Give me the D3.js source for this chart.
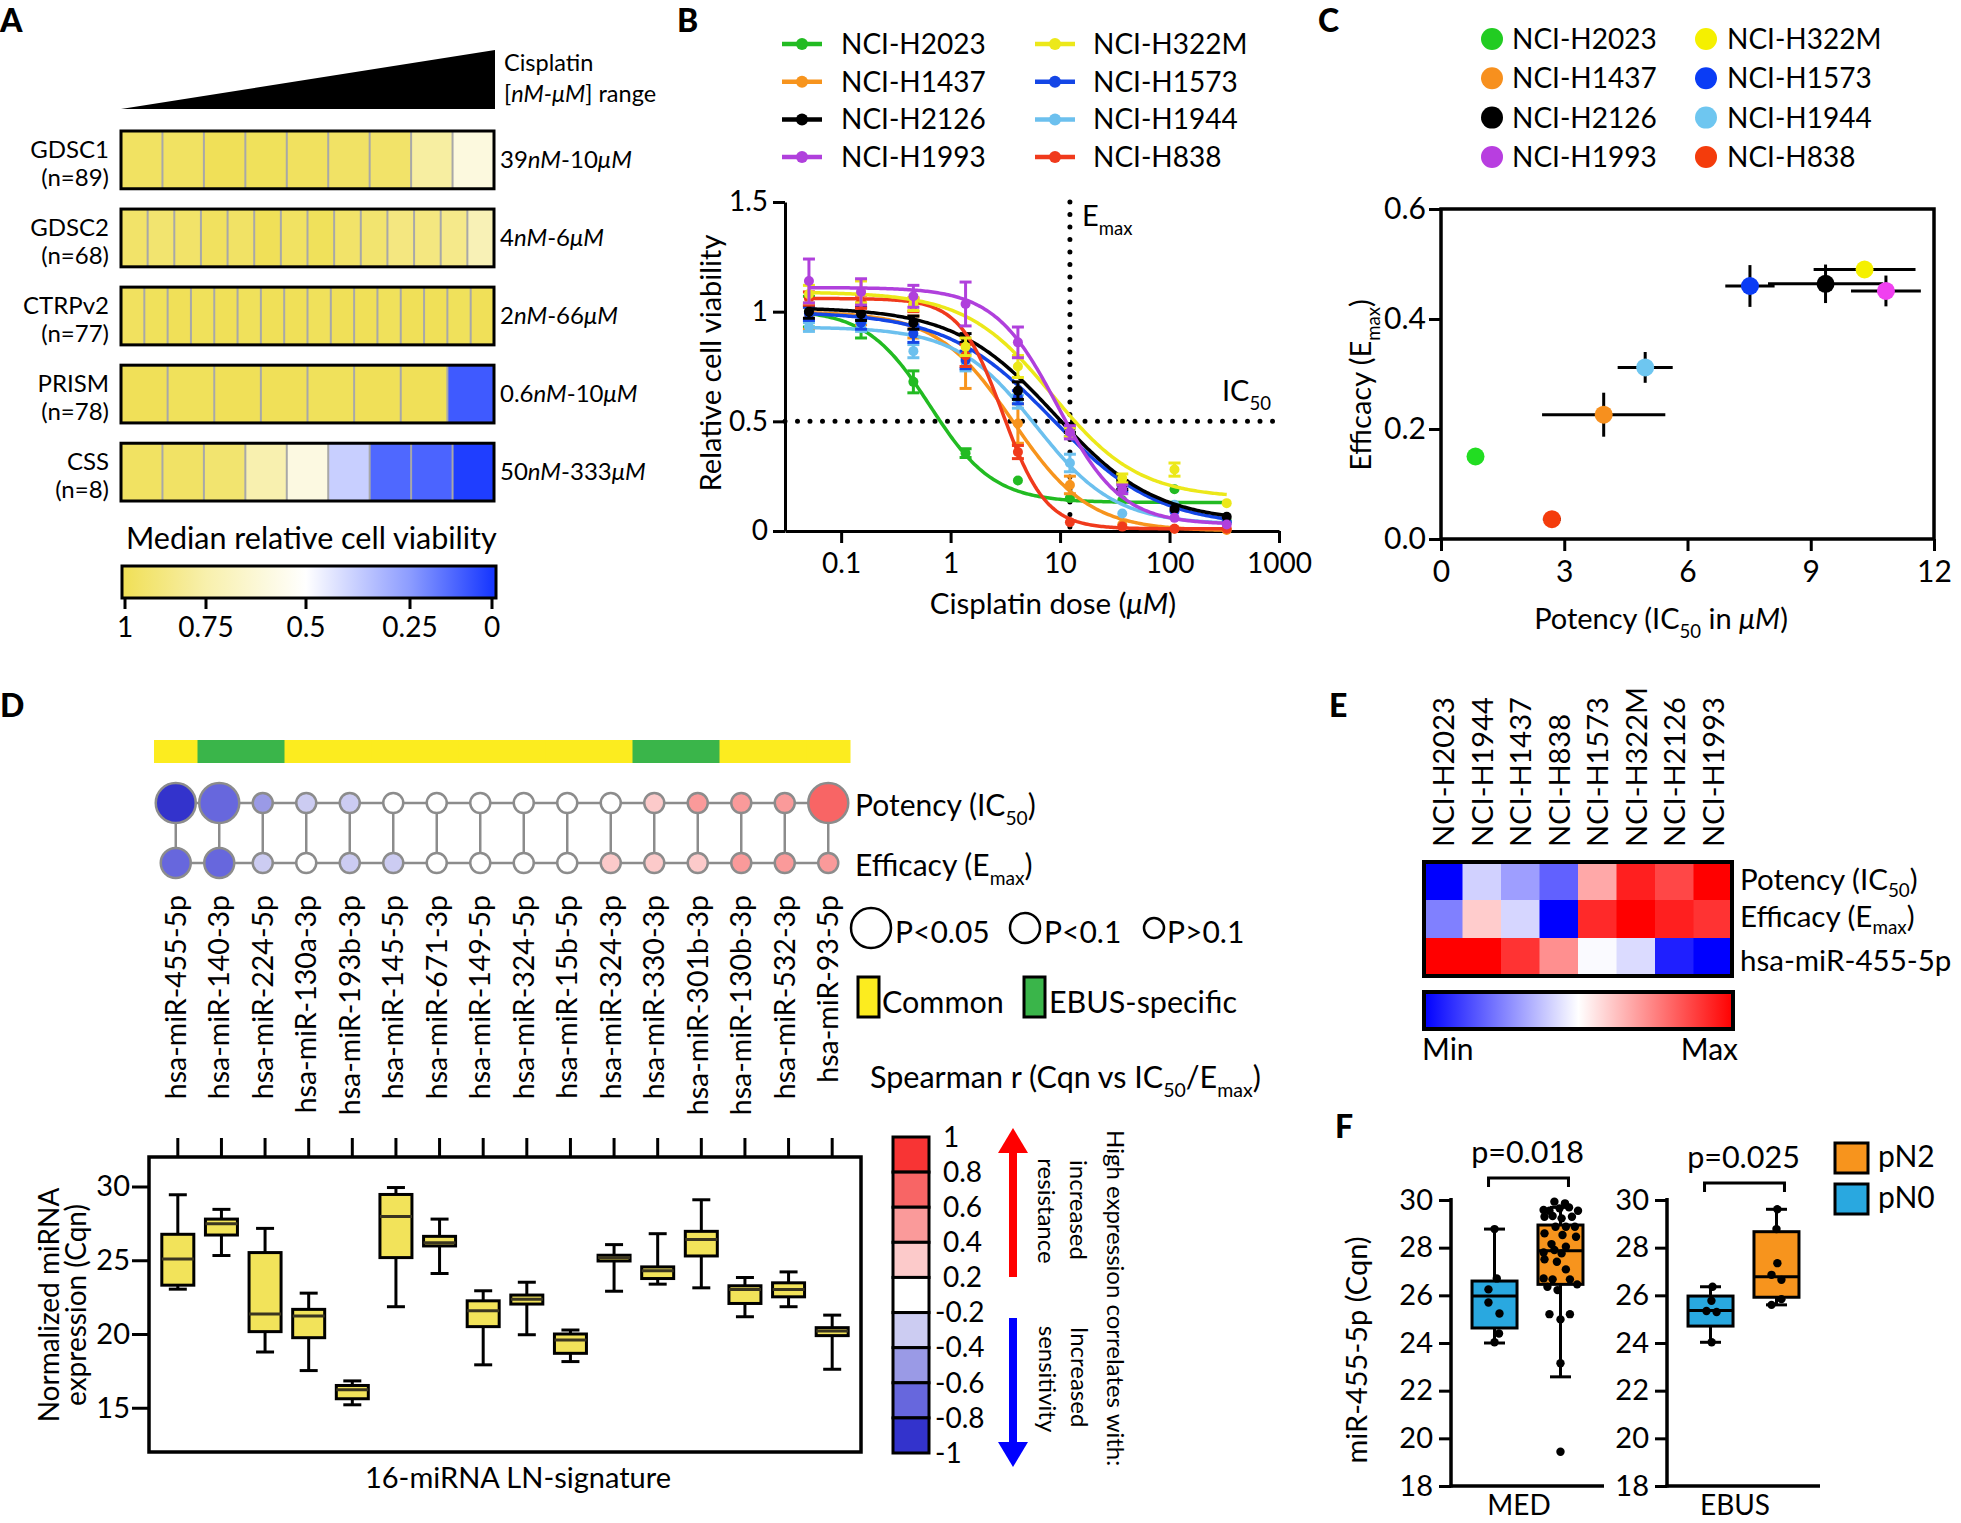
<!DOCTYPE html>
<html><head><meta charset="utf-8">
<script src="https://cdn.jsdelivr.net/npm/d3@7"></script>
<style>body{margin:0;background:#fff}svg{display:block}text{font-family:Lato,sans-serif;fill:#000}</style>
</head><body><svg id="fig" width="1961" height="1523"></svg>
<script>
// ================= DATA =================
// Panel A
const aDatasets=["GDSC1","GDSC2","CTRPv2","PRISM","CSS"];
const aSizes=["(n=89)","(n=68)","(n=77)","(n=78)","(n=8)"];
const aRanges=[["39","nM","10","μM"],["4","nM","6","μM"],["2","nM","66","μM"],["0.6","nM","10","μM"],["50","nM","333","μM"]];
const aGDSC1=[0.97,0.97,1.0,0.99,0.98,0.96,0.95,0.78,0.6];
const aGDSC2=[0.95,0.93,0.95,0.98,0.96,1.0,0.97,0.99,0.95,0.93,0.88,0.88,0.85,0.72];
const aCTRPv2=[0.98,0.99,1,0.99,1,0.99,1,1,0.99,1,1,0.99,1,1,0.99,1];
const aPRISM=[1,0.99,1,1,0.99,1,1,0.085];
const aCSS=[0.97,0.96,0.93,0.74,0.59,0.38,0.12,0.11,0.015];
const aLegendTicks=[1,0.75,0.5,0.25,0];

// Panel B
const bLines=["NCI-H2023","NCI-H1437","NCI-H2126","NCI-H1993","NCI-H322M","NCI-H1573","NCI-H1944","NCI-H838"];
const bColors=["#22bb22","#f7941d","#000000","#b040dc","#ece81a","#1446e6","#6cc0ee","#f03a1c"];
const bDoses=[0.0508,0.152,0.457,1.37,4.12,12.3,37,111,333];
const bViability=[
 [1.0,0.95,0.68,0.355,0.23,0.15,0.14,0.19,0.047],
 [0.97,0.99,0.93,0.75,0.49,0.21,0.03,0.01,0.005],
 [1.0,0.99,0.95,0.88,0.64,0.47,0.21,0.1,0.065],
 [1.14,1.09,1.07,1.035,0.86,0.45,0.19,0.06,0.03],
 [1.08,1.09,1.035,0.84,0.75,0.45,0.24,0.28,0.127],
 [0.99,0.95,0.9,0.78,0.61,0.45,0.2,0.09,0.04],
 [0.93,0.93,0.82,0.77,0.59,0.31,0.08,0.12,0.04],
 [1.06,1.045,1.03,0.8,0.36,0.04,0.02,0.01,0.01]];
const bSEM=[
 [0.07,0.07,0.05,0.02,0.01,0.01,0.01,0.01,0.01],
 [0.05,0.05,0.05,0.1,0.09,0.04,0.01,0.01,0.01],
 [0.03,0.03,0.03,0.02,0.04,0.02,0.02,0.01,0.01],
 [0.1,0.06,0.05,0.1,0.07,0.03,0.02,0.01,0.01],
 [0.04,0.05,0.03,0.04,0.05,0.02,0.02,0.03,0.01],
 [0.03,0.03,0.04,0.04,0.03,0.02,0.02,0.01,0.01],
 [0.02,0.02,0.03,0.04,0.03,0.04,0.01,0.01,0.01],
 [0.03,0.03,0.03,0.05,0.03,0.01,0.01,0.01,0.01]];
// fitted 4-parameter logistic curves
const bFitTop=[1.01,1.0,1.02,1.11,1.09,1.0,0.93,1.06];
const bFitBottom=[0.13,0.0,0.04,0.03,0.15,0.02,0.03,0.01];
const bFitEC50=[0.65,3.7,9,9.5,8.5,8.5,6,3.0];
const bFitHill=[1.5,1.25,0.95,1.5,1.1,0.9,1.2,2.2];

// Panel C
const cIC50=[0.84,3.96,9.36,10.83,10.31,7.52,4.97,2.70];
const cIC50Err=[0,1.5,1.4,0.85,1.24,0.6,0.67,0.22];
const cEmax=[0.15,0.226,0.464,0.451,0.49,0.46,0.312,0.036];
const cEmaxErr=[0,0.04,0.035,0.028,0.008,0.038,0.028,0.005];
const cColors=["#22dd22","#f7901e","#000000","#f040f0","#f5f000","#0a3cf5","#6ec6f0","#f43c0c"];
const cLegendColors=["#22cc22","#f7901e","#000000","#b83ee0","#f5f000","#0a3cf5","#6ec6f0","#f43c0c"];

// Panel D
const dMirnas=["hsa-miR-455-5p","hsa-miR-140-3p","hsa-miR-224-5p","hsa-miR-130a-3p","hsa-miR-193b-3p","hsa-miR-145-5p","hsa-miR-671-3p","hsa-miR-149-5p","hsa-miR-324-5p","hsa-miR-15b-5p","hsa-miR-324-3p","hsa-miR-330-3p","hsa-miR-301b-3p","hsa-miR-130b-3p","hsa-miR-532-3p","hsa-miR-93-5p"];
const dGroups=["Common","EBUS-specific"];
const dGroup=["Common","EBUS-specific","EBUS-specific","Common","Common","Common","Common","Common","Common","Common","Common","EBUS-specific","EBUS-specific","Common","Common","Common"];
const dSigLevels=["P<0.05","P<0.1","P>0.1"];
const dPotencyR=[-0.9,-0.7,-0.5,-0.3,-0.3,0,0,0,0,0,0,0.3,0.5,0.5,0.5,0.7];
const dPotencySig=["P<0.05","P<0.05","P>0.1","P>0.1","P>0.1","P>0.1","P>0.1","P>0.1","P>0.1","P>0.1","P>0.1","P>0.1","P>0.1","P>0.1","P>0.1","P<0.05"];
const dEfficacyR=[-0.7,-0.7,-0.3,0,-0.3,-0.3,0,0,0,0,0.3,0.3,0.3,0.5,0.5,0.5];
const dEfficacySig=["P<0.1","P<0.1","P>0.1","P>0.1","P>0.1","P>0.1","P>0.1","P>0.1","P>0.1","P>0.1","P>0.1","P>0.1","P>0.1","P>0.1","P>0.1","P>0.1"];
const dWhiskLo=[23.04,25.32,18.78,17.52,15.2,21.85,24.1,17.91,19.95,18.13,22.9,23.38,23.13,21.17,21.85,17.61];
const dQ1=[23.31,26.71,20.16,19.75,15.61,25.18,25.97,20.5,22.03,18.69,24.95,23.76,25.29,22.07,22.52,19.89];
const dMedian=[25.09,27.48,21.35,21.22,16.22,27.97,26.19,21.58,22.36,19.6,25.18,24.28,26.4,23.02,23.02,20.2];
const dQ3=[26.76,27.79,25.52,21.67,16.51,29.46,26.62,22.25,22.64,20.0,25.34,24.55,26.96,23.27,23.47,20.43];
const dWhiskHi=[29.44,28.45,27.16,22.77,16.82,29.93,27.79,22.93,23.51,20.27,26.06,26.8,29.1,23.83,24.21,21.28];
const dYTicks=[15,20,25,30];
const dSpearmanBreaks=[1,0.8,0.6,0.4,0.2,-0.2,-0.4,-0.6,-0.8,-1];

// Panel E
const eLines=["NCI-H2023","NCI-H1944","NCI-H1437","NCI-H838","NCI-H1573","NCI-H322M","NCI-H2126","NCI-H1993"];
const ePotency=[0,0.41,0.31,0.19,0.67,0.94,0.86,1.0];
const eEfficacy=[0.25,0.6,0.42,0,0.92,1.0,0.94,0.9];
const eMir455=[1,1,0.9,0.72,0.49,0.43,0.06,0];

// Panel F
const fCohorts=["MED","EBUS"];
const fClasses=["pN0","pN2"];
const fColors=["#29a8e0","#f7941d"];
const fMedN0Stats=[24.0,24.63,25.97,26.6,28.78];   // min,q1,median,q3,max
const fMedN2Stats=[22.58,26.46,27.87,28.95,29.69];
const fEbusN0Stats=[24.03,24.71,25.36,25.97,26.36];
const fEbusN2Stats=[25.6,25.92,26.78,28.67,29.61];
const fMedN0=[28.78,26.71,26.25,25.7,25.24,24.4,24.03];
const fMedN0Jit=[0,0.1,-0.27,-0.27,0.22,0.2,0];
const fMedN2=[29.93,29.86,29.58,29.55,29.65,29.69,29.55,29.3,29.33,29.23,29.3,28.88,28.88,28.6,28.88,28.53,28.46,28.15,28.04,27.8,27.9,27.76,27.51,27.41,27.09,26.71,26.67,26.67,26.36,26.46,26.22,25.21,25.21,24.99,23.15,19.44];
const fMedN2Jit=[-0.27,0.2,-0.75,-0.49,-0.04,0.38,0.78,-0.71,-0.35,0.05,0.51,-0.22,0.24,-0.71,0.64,0.09,0.69,-0.4,0.24,-0.75,-0.27,0.05,-0.71,-0.16,0.24,-0.75,-0.35,0.42,-0.58,0.74,-0.13,-0.49,0.42,0,0,0];
const fEbusN0=[26.36,25.77,25.34,25.3,24.03];
const fEbusN0Jit=[0.09,0.04,-0.18,0.27,0.05];
const fEbusN2=[29.61,28.78,27.35,26.86,26.65,25.84,25.6];
const fEbusN2Jit=[0.04,0,0.04,-0.22,0.22,0.22,-0.22];
const fPvalues=["p=0.018","p=0.025"];
const fYTicks=[18,20,22,24,26,28,30];

// ================= DRAWING =================
const FA="'Liberation Sans',Arial,sans-serif";
const svg=d3.select("#fig");
svg.append("rect").attr("width",1961).attr("height",1523).attr("fill","#fff");
const defs=svg.append("defs");

function rich(parent,parts,size,attrs,subShift){
  const t=parent.append("text").attr("font-size",size);
  Object.entries(attrs||{}).forEach(([k,v])=>t.attr(k,v));
  let down=0;
  const sf=subShift||0.3;
  parts.forEach(p=>{
    if(typeof p==="string") p={t:p};
    const ts=t.append("tspan").text(p.t);
    if(p.i) ts.attr("font-style","italic");
    if(p.sub){const d=size*sf; ts.attr("font-size",size*0.64).attr("dy",d-down); down=d;}
    else if(down){ts.attr("dy",-down); down=0;}
  });
  return t;
}
function styleAxis(g,fs,ff){
  g.attr("font-size",fs).attr("font-family",ff||"Lato,sans-serif");
  g.selectAll("path,line").attr("stroke","#000").attr("stroke-width",3);
  g.selectAll("text").attr("fill","#000");
}
function letter(t,x,y){svg.append("text").attr("x",x).attr("y",y).attr("font-size",32).attr("font-weight",900).text(t);}
letter("A",0,32);letter("B",677,32);letter("C",1318,32);letter("D",0,717);letter("E",1329,717);letter("F",1335,1138);

// ---------- Panel A ----------
(function(){
  const g=svg.append("g");
  const vals=[aGDSC1,aGDSC2,aCTRPv2,aPRISM,aCSS];
  const row=d3.scaleBand().domain(aDatasets).range([131,501]).paddingInner(0.26);
  const color=d3.scaleLinear().domain([0,0.5,1]).range(["#1838ff","#ffffff","#f0e058"]);
  g.append("path").attr("d","M121,109L495,50L495,109Z").attr("fill","#000");
  g.append("text").attr("x",504).attr("y",71).attr("font-size",23.5).text("Cisplatin");
  rich(g,["[",{t:"nM-μM",i:true},"] range"],23.5,{x:504,y:102});
  aDatasets.forEach((ds,i)=>{
    const v=vals[i], y0=row(ds), h=row.bandwidth();
    const cx=d3.scaleLinear().domain([0,v.length]).range([121,494]);
    g.append("g").selectAll("rect").data(v).join("rect")
      .attr("x",(d,j)=>cx(j)).attr("y",y0).attr("width",cx(1)-cx(0)+0.5).attr("height",h).attr("fill",d=>color(d));
    g.append("g").selectAll("line").data(d3.range(1,v.length)).join("line")
      .attr("x1",j=>cx(j)).attr("x2",j=>cx(j)).attr("y1",y0).attr("y2",y0+h).attr("stroke","#a8a8a8").attr("stroke-width",2);
    g.append("rect").attr("x",121).attr("y",y0).attr("width",373).attr("height",h).attr("fill","none").attr("stroke","#000").attr("stroke-width",3);
    g.append("text").attr("x",109).attr("y",y0+h/2-2).attr("text-anchor","end").attr("font-size",24).text(ds);
    g.append("text").attr("x",109).attr("y",y0+h/2+26).attr("text-anchor","end").attr("font-size",24).text(aSizes[i]);
    const r=aRanges[i];
    rich(g,[r[0],{t:r[1],i:true},"-"+r[2],{t:r[3],i:true}],24,{x:500,y:y0+h/2+8});
  });
  g.append("text").attr("x",126).attr("y",549).attr("font-size",30.5).text("Median relative cell viability");
  const lx=d3.scaleLinear().domain(aLegendTicks).range([125,206,306,410,492]);
  const grad=defs.append("linearGradient").attr("id","gradA").attr("gradientUnits","userSpaceOnUse").attr("x1",125).attr("x2",492).attr("y1",0).attr("y2",0);
  d3.range(20,-1,-1).map(k=>k/20).forEach(v=>grad.append("stop").attr("offset",(lx(v)-125)/(492-125)).attr("stop-color",color(v)));
  g.append("rect").attr("x",122).attr("y",566).attr("width",374).attr("height",32).attr("fill","url(#gradA)").attr("stroke","#000").attr("stroke-width",3);
  g.append("g").selectAll("line").data(aLegendTicks).join("line").attr("x1",d=>lx(d)).attr("x2",d=>lx(d)).attr("y1",598).attr("y2",609).attr("stroke","#000").attr("stroke-width",3);
  g.append("g").selectAll("text").data(aLegendTicks).join("text").attr("x",d=>lx(d)).attr("y",637).attr("text-anchor","middle").attr("font-size",28).text(d=>String(d));
})();

// ---------- Panel B ----------
(function(){
  const g=svg.append("g");
  const x=d3.scaleLog().domain([0.0307,1000]).range([785,1279]);
  const y=d3.scaleLinear().domain([0,1.5]).range([531,202]);
  const ax=g.append("g").attr("transform","translate(0,531)").call(d3.axisBottom(x).tickValues([0.1,1,10,100,1000]).tickFormat(d=>String(d)).tickSize(12).tickSizeOuter(0).tickPadding(10));
  styleAxis(ax,28);
  const ay=g.append("g").attr("transform","translate(785,0)").call(d3.axisLeft(y).tickValues([0,0.5,1,1.5]).tickFormat(d=>String(d)).tickSize(12).tickSizeOuter(0).tickPadding(5));
  styleAxis(ay,28);
  g.append("line").attr("x1",x(0.0307)).attr("x2",x(950)).attr("y1",y(0.5)).attr("y2",y(0.5)).attr("stroke","#000").attr("stroke-width",5).attr("stroke-dasharray","0,12.5").attr("stroke-linecap","round");
  g.append("line").attr("x1",x(bDoses[5])).attr("x2",x(bDoses[5])).attr("y1",y(1.5)).attr("y2",y(0)).attr("stroke","#000").attr("stroke-width",5).attr("stroke-dasharray","0,12.5").attr("stroke-linecap","round");
  rich(g,["E",{t:"max",sub:true}],29,{x:1082,y:226});
  rich(g,["IC",{t:"50",sub:true}],29,{x:1222,y:401});
  const curveDoses=d3.range(0,241).map(k=>Math.pow(10,Math.log10(bDoses[0])+k*(Math.log10(bDoses[8])-Math.log10(bDoses[0]))/240));
  const order=[0,1,6,5,2,7,4,3];
  order.forEach(i=>{
    const col=bColors[i];
    const f=d=>bFitBottom[i]+(bFitTop[i]-bFitBottom[i])/(1+Math.pow(d/bFitEC50[i],bFitHill[i]));
    g.append("path").datum(curveDoses).attr("d",d3.line().x(d=>x(d)).y(d=>y(f(d)))).attr("fill","none").attr("stroke",col).attr("stroke-width",3.5);
    const pts=bDoses.map((d,k)=>({d,v:bViability[i][k],e:bSEM[i][k]}));
    const eg=g.append("g").attr("stroke",col).attr("stroke-width",3);
    pts.forEach(p=>{
      if(p.e<0.015) return;
      eg.append("line").attr("x1",x(p.d)).attr("x2",x(p.d)).attr("y1",y(p.v-p.e)).attr("y2",y(p.v+p.e));
      eg.append("line").attr("x1",x(p.d)-6).attr("x2",x(p.d)+6).attr("y1",y(p.v+p.e)).attr("y2",y(p.v+p.e));
      eg.append("line").attr("x1",x(p.d)-6).attr("x2",x(p.d)+6).attr("y1",y(p.v-p.e)).attr("y2",y(p.v-p.e));
    });
    g.append("g").selectAll("circle").data(pts).join("circle").attr("cx",p=>x(p.d)).attr("cy",p=>y(p.v)).attr("r",5).attr("fill",col);
  });
  bLines.forEach((n,i)=>{
    const lx=i<4?782:1035, tx=i<4?841:1093, cy=44+(i%4)*37.7;
    g.append("line").attr("x1",lx).attr("x2",lx+40).attr("y1",cy).attr("y2",cy).attr("stroke",bColors[i]).attr("stroke-width",4.5);
    g.append("circle").attr("cx",lx+20).attr("cy",cy).attr("r",6).attr("fill",bColors[i]);
    g.append("text").attr("x",tx).attr("y",cy+10).attr("font-size",28).text(n);
  });
  g.append("text").attr("transform","translate(721,363) rotate(-90)").attr("text-anchor","middle").attr("font-size",29).text("Relative cell viability");
  rich(g,["Cisplatin dose (",{t:"μM",i:true},")"],29.5,{x:1053,y:614,"text-anchor":"middle"});
})();

// ---------- Panel C ----------
(function(){
  const g=svg.append("g");
  const x=d3.scaleLinear().domain([0,12]).range([1441,1934]);
  const y=d3.scaleLinear().domain([0,0.6]).range([539,209]);
  g.append("rect").attr("x",1441).attr("y",209).attr("width",493).attr("height",330).attr("fill","none").attr("stroke","#000").attr("stroke-width",3.5);
  const ax=g.append("g").attr("transform","translate(0,539)").call(d3.axisBottom(x).tickValues([0,3,6,9,12]).tickSize(12).tickSizeOuter(0).tickPadding(10));
  styleAxis(ax,30); ax.select(".domain").remove();
  const ay=g.append("g").attr("transform","translate(1441,0)").call(d3.axisLeft(y).tickValues([0,0.2,0.4,0.6]).tickFormat(d3.format(".1f")).tickSize(12).tickSizeOuter(0).tickPadding(3));
  styleAxis(ay,30); ay.select(".domain").remove();
  const eg=g.append("g").attr("stroke","#000").attr("stroke-width",3);
  cIC50.forEach((v,i)=>{
    if(cIC50Err[i]>0) eg.append("line").attr("x1",x(v-cIC50Err[i])).attr("x2",x(v+cIC50Err[i])).attr("y1",y(cEmax[i])).attr("y2",y(cEmax[i]));
    if(cEmaxErr[i]>0) eg.append("line").attr("x1",x(v)).attr("x2",x(v)).attr("y1",y(cEmax[i]-cEmaxErr[i])).attr("y2",y(cEmax[i]+cEmaxErr[i]));
  });
  g.append("g").selectAll("circle").data(cIC50).join("circle").attr("cx",d=>x(d)).attr("cy",(d,i)=>y(cEmax[i])).attr("r",9).attr("fill",(d,i)=>cColors[i]);
  bLines.forEach((n,i)=>{
    const dx=i<4?1492:1706, tx=i<4?1512:1727, cy=39+(i%4)*39.3;
    g.append("circle").attr("cx",dx).attr("cy",cy).attr("r",11).attr("fill",cLegendColors[i]);
    g.append("text").attr("x",tx).attr("y",cy+10).attr("font-size",28).text(n);
  });
  rich(g,["Efficacy (E",{t:"max",sub:true},")"],29,{transform:"translate(1371,385) rotate(-90)","text-anchor":"middle"});
  rich(g,["Potency (IC",{t:"50",sub:true}," in ",{t:"μM",i:true},")"],29,{x:1661,y:629,"text-anchor":"middle"});
})();

// ---------- Panel D ----------
(function(){
  const g=svg.append("g");
  const x=d3.scaleBand().domain(dMirnas).range([154,850]);
  const cxm=m=>x(m)+x.bandwidth()/2;
  const grpColor=d3.scaleOrdinal().domain(dGroups).range(["#fcec1f","#3ab54a"]);
  const rColor=d3.scaleThreshold().domain([-0.8,-0.6,-0.4,-0.2,0.2,0.4,0.6,0.8]).range(["#3333cc","#6767dd","#9a9ae6","#ccccf2","#ffffff","#fccaca","#fa9a9a","#f86565","#f83434"]);
  const rad=d3.scaleOrdinal().domain(dSigLevels).range([20,15,10]);
  g.append("g").selectAll("rect").data(dMirnas).join("rect").attr("x",d=>x(d)).attr("y",740).attr("width",x.bandwidth()+0.5).attr("height",23).attr("fill",(d,i)=>grpColor(dGroup[i]));
  const yP=803,yE=863;
  const lg=g.append("g").attr("stroke","#8c8c8c").attr("stroke-width",2.5);
  lg.append("line").attr("x1",cxm(dMirnas[0])).attr("x2",cxm(dMirnas[15])).attr("y1",yP).attr("y2",yP);
  lg.append("line").attr("x1",cxm(dMirnas[0])).attr("x2",cxm(dMirnas[15])).attr("y1",yE).attr("y2",yE);
  lg.selectAll("line.v").data(dMirnas).join("line").attr("class","v").attr("x1",cxm).attr("x2",cxm).attr("y1",yP).attr("y2",yE);
  g.append("g").selectAll("circle").data(dMirnas).join("circle").attr("cx",cxm).attr("cy",yP).attr("r",(d,i)=>rad(dPotencySig[i])).attr("fill",(d,i)=>rColor(dPotencyR[i])).attr("stroke","#8c8c8c").attr("stroke-width",2.5);
  g.append("g").selectAll("circle").data(dMirnas).join("circle").attr("cx",cxm).attr("cy",yE).attr("r",(d,i)=>rad(dEfficacySig[i])).attr("fill",(d,i)=>rColor(dEfficacyR[i])).attr("stroke","#8c8c8c").attr("stroke-width",2.5);
  rich(g,["Potency (IC",{t:"50",sub:true},")"],30,{x:855,y:816});
  rich(g,["Efficacy (E",{t:"max",sub:true},")"],30,{x:855,y:876});
  g.append("g").selectAll("text").data(dMirnas).join("text").attr("transform",d=>`translate(${cxm(d)+10},895) rotate(-90)`).attr("text-anchor","end").attr("font-family",FA).attr("font-size",28.5).text(d=>d);
  const legX=[871,1025,1154], legT=[895,1044,1167];
  dSigLevels.forEach((s,i)=>{
    g.append("circle").attr("cx",legX[i]).attr("cy",928).attr("r",rad(s)).attr("fill","#fff").attr("stroke","#000").attr("stroke-width",2.5);
    g.append("text").attr("x",legT[i]).attr("y",943).attr("font-size",30).text(s);
  });
  const boxX=[858,1024], boxT=[882,1049];
  dGroups.forEach((s,i)=>{
    g.append("rect").attr("x",boxX[i]).attr("y",977).attr("width",21).attr("height",40).attr("fill",grpColor(s)).attr("stroke","#000").attr("stroke-width",3);
    g.append("text").attr("x",boxT[i]).attr("y",1013).attr("font-size",30.5).text(s);
  });
  rich(g,["Spearman r (Cqn vs IC",{t:"50",sub:true},"/E",{t:"max",sub:true},")"],30.5,{x:870,y:1088});
  const xb=d3.scaleBand().domain(dMirnas).range([156,854]);
  const cxb=m=>xb(m)+xb.bandwidth()/2;
  const y=d3.scaleLinear().domain([12,32]).range([1452,1157]);
  g.append("g").selectAll("line").data(dMirnas).join("line").attr("x1",cxb).attr("x2",cxb).attr("y1",1138).attr("y2",1157).attr("stroke","#000").attr("stroke-width",3);
  const bw=32, cw=18;
  const bg=g.append("g").attr("stroke","#000").attr("stroke-width",3);
  dMirnas.forEach((m,i)=>{
    const c=cxb(m);
    bg.append("line").attr("x1",c).attr("x2",c).attr("y1",y(dWhiskLo[i])).attr("y2",y(dWhiskHi[i]));
    bg.append("line").attr("x1",c-cw/2).attr("x2",c+cw/2).attr("y1",y(dWhiskLo[i])).attr("y2",y(dWhiskLo[i]));
    bg.append("line").attr("x1",c-cw/2).attr("x2",c+cw/2).attr("y1",y(dWhiskHi[i])).attr("y2",y(dWhiskHi[i]));
    bg.append("rect").attr("x",c-bw/2).attr("y",y(dQ3[i])).attr("width",bw).attr("height",y(dQ1[i])-y(dQ3[i])).attr("fill","#f2e35a");
    bg.append("line").attr("x1",c-bw/2).attr("x2",c+bw/2).attr("y1",y(dMedian[i])).attr("y2",y(dMedian[i])).attr("stroke","#3a3520");
  });
  g.append("rect").attr("x",149).attr("y",1157).attr("width",712).attr("height",295).attr("fill","none").attr("stroke","#000").attr("stroke-width",3.5);
  const ay=g.append("g").attr("transform","translate(149,0)").call(d3.axisLeft(y).tickValues(dYTicks).tickSize(17).tickSizeOuter(0).tickPadding(2));
  styleAxis(ay,29); ay.select(".domain").remove();
  g.append("text").attr("transform","translate(59,1305) rotate(-90)").attr("text-anchor","middle").attr("font-family",FA).attr("font-size",28).text("Normalized miRNA");
  g.append("text").attr("transform","translate(86,1305) rotate(-90)").attr("text-anchor","middle").attr("font-family",FA).attr("font-size",28).text("expression (Cqn)");
  g.append("text").attr("x",518).attr("y",1488).attr("text-anchor","middle").attr("font-size",29).text("16-miRNA LN-signature");
  const ky=d3.scaleLinear().domain([0,9]).range([1137,1453]);
  const keyCols=rColor.range().slice().reverse();
  g.append("g").selectAll("rect").data(keyCols).join("rect").attr("x",893).attr("y",(d,k)=>ky(k)).attr("width",36).attr("height",ky(1)-ky(0)).attr("fill",d=>d).attr("stroke","#000").attr("stroke-width",3);
  g.append("g").selectAll("text").data(dSpearmanBreaks).join("text").attr("x",d=>d<0?935:943).attr("y",(d,k)=>ky(k)).attr("dy","0.35em").attr("font-size",28).text(d=>String(d));
  g.append("line").attr("x1",1013).attr("x2",1013).attr("y1",1277).attr("y2",1150).attr("stroke","#ff0000").attr("stroke-width",8);
  g.append("path").attr("d","M1013,1128L998,1153L1028,1153Z").attr("fill","#ff0000");
  g.append("line").attr("x1",1013).attr("x2",1013).attr("y1",1318).attr("y2",1445).attr("stroke","#0000ff").attr("stroke-width",8);
  g.append("path").attr("d","M1013,1467L998,1442L1028,1442Z").attr("fill","#0000ff");
  const rt=(txt,xx,yy,anchor)=>g.append("text").attr("transform",`translate(${xx},${yy}) rotate(90)`).attr("text-anchor",anchor).attr("font-size",24).text(txt);
  rt("High expression correlates with:",1107,1130,"start");
  rt("increased",1070,1210,"middle");
  rt("resistance",1038,1211,"middle");
  rt("Increased",1071,1377,"middle");
  rt("sensitivity",1039,1379,"middle");
})();

// ---------- Panel E ----------
(function(){
  const g=svg.append("g");
  const x=d3.scaleBand().domain(eLines).range([1424,1732]);
  const rows=["Potency","Efficacy","hsa-miR-455-5p"];
  const y=d3.scaleBand().domain(rows).range([862,976]);
  const col=d3.scaleLinear().domain([0,0.5,1]).range(["#0000ff","#ffffff","#ff0000"]);
  [ePotency,eEfficacy,eMir455].forEach((vals,r)=>{
    g.append("g").selectAll("rect").data(eLines).join("rect").attr("x",d=>x(d)).attr("y",y(rows[r])).attr("width",x.bandwidth()+0.5).attr("height",y.bandwidth()+0.5).attr("fill",(d,i)=>col(vals[i]));
  });
  g.append("rect").attr("x",1424).attr("y",862).attr("width",308).attr("height",114).attr("fill","none").attr("stroke","#000").attr("stroke-width",4);
  g.append("g").selectAll("text").data(eLines).join("text").attr("transform",d=>`translate(${x(d)+x.bandwidth()/2+11},847) rotate(-90)`).attr("font-family",FA).attr("font-size",29).text(d=>d);
  rich(g,["Potency (IC",{t:"50",sub:true},")"],29.5,{x:1740,y:y(rows[0])+y.bandwidth()/2+9},0.24);
  rich(g,["Efficacy (E",{t:"max",sub:true},")"],29.5,{x:1740,y:y(rows[1])+y.bandwidth()/2+8},0.24);
  g.append("text").attr("x",1740).attr("y",y(rows[2])+y.bandwidth()/2+14).attr("font-size",29.5).text("hsa-miR-455-5p");
  const grad=defs.append("linearGradient").attr("id","gradE");
  [0,0.5,1].forEach(v=>grad.append("stop").attr("offset",v).attr("stop-color",col(v)));
  g.append("rect").attr("x",1424).attr("y",992).attr("width",309).attr("height",37).attr("fill","url(#gradE)").attr("stroke","#000").attr("stroke-width",4);
  g.append("text").attr("x",1422).attr("y",1060).attr("font-size",30).text("Min");
  g.append("text").attr("x",1738).attr("y",1060).attr("text-anchor","end").attr("font-size",30).text("Max");
})();

// ---------- Panel F ----------
(function(){
  const g=svg.append("g");
  const y=d3.scaleLinear().domain([18,30]).range([1486,1200]);
  const axes=[1451,1667];
  const stats=[[fMedN0Stats,fMedN2Stats],[fEbusN0Stats,fEbusN2Stats]];
  const dots=[[fMedN0,fMedN2],[fEbusN0,fEbusN2]];
  const jits=[[fMedN0Jit,fMedN2Jit],[fEbusN0Jit,fEbusN2Jit]];
  const bw=45, cw=21;
  fCohorts.forEach((coh,ci)=>{
    const ax0=axes[ci];
    const x=d3.scalePoint().domain(fClasses).range([ax0,ax0+153]).padding(0.66);
    fClasses.forEach((cl,k)=>{
      const s=stats[ci][k], c=x(cl);
      const bg=g.append("g").attr("stroke","#000").attr("stroke-width",3);
      bg.append("line").attr("x1",c).attr("x2",c).attr("y1",y(s[0])).attr("y2",y(s[4]));
      bg.append("line").attr("x1",c-cw/2).attr("x2",c+cw/2).attr("y1",y(s[0])).attr("y2",y(s[0]));
      bg.append("line").attr("x1",c-cw/2).attr("x2",c+cw/2).attr("y1",y(s[4])).attr("y2",y(s[4]));
      bg.append("rect").attr("x",c-bw/2).attr("y",y(s[3])).attr("width",bw).attr("height",y(s[1])-y(s[3])).attr("fill",fColors[k]);
      bg.append("line").attr("x1",c-bw/2).attr("x2",c+bw/2).attr("y1",y(s[2])).attr("y2",y(s[2]));
      g.append("g").selectAll("circle").data(dots[ci][k]).join("circle").attr("cx",(d,j)=>c+jits[ci][k][j]*bw/2).attr("cy",d=>y(d)).attr("r",4.2).attr("fill","#000");
    });
    const ay=g.append("g").attr("transform",`translate(${ax0},0)`).call(d3.axisLeft(y).tickValues(fYTicks).tickSize(12).tickSizeOuter(0).tickPadding(6));
    styleAxis(ay,29); ay.select(".domain").remove();
    g.append("line").attr("x1",ax0).attr("x2",ax0).attr("y1",1198).attr("y2",1487.5).attr("stroke","#000").attr("stroke-width",3.5);
    g.append("line").attr("x1",ax0-1.5).attr("x2",ax0+153).attr("y1",1486).attr("y2",1486).attr("stroke","#000").attr("stroke-width",3.5);
    g.append("text").attr("x",ax0+68).attr("y",1515).attr("text-anchor","middle").attr("font-size",28).text(coh);
    const by=ci===0?1178:1183;
    g.append("path").attr("d",`M${x("pN0")-6},${by+9}V${by}H${x("pN2")+8}V${by+9}`).attr("fill","none").attr("stroke","#000").attr("stroke-width",3);
    g.append("text").attr("x",(x("pN0")+x("pN2"))/2).attr("y",by-15).attr("text-anchor","middle").attr("font-size",30.5).text(fPvalues[ci]);
  });
  fClasses.slice().reverse().forEach((cl,k)=>{
    const yy=1143+k*41;
    g.append("rect").attr("x",1835).attr("y",yy).attr("width",33).attr("height",30).attr("fill",fColors[1-k]).attr("stroke","#000").attr("stroke-width",3);
    g.append("text").attr("x",1878).attr("y",yy+24).attr("font-size",30).text(cl);
  });
  g.append("text").attr("transform","translate(1367,1350) rotate(-90)").attr("text-anchor","middle").attr("font-size",29).text("miR-455-5p (Cqn)");
})();
</script></body></html>
